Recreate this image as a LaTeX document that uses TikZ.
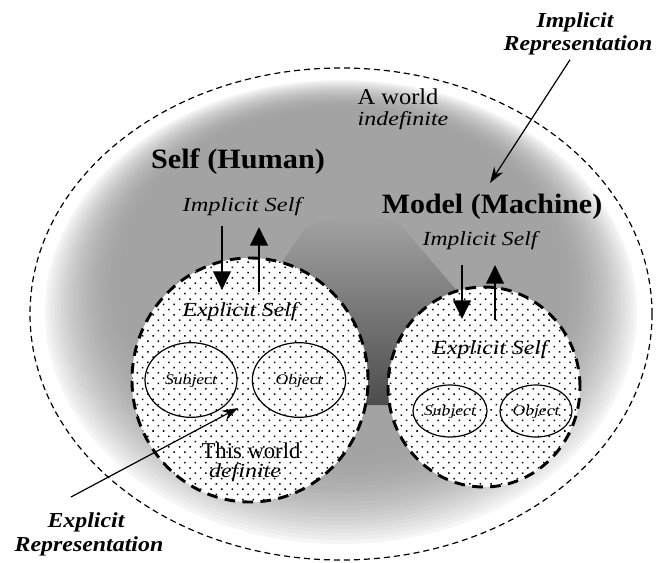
\documentclass[tikz,border=0pt]{standalone}
\usepackage{fontspec}
\setmainfont{Liberation Serif}
\usetikzlibrary{shapes.geometric,arrows.meta,patterns.meta}

% horizontally widened text
\newcommand{\widen}[2][1.2]{\scalebox{#1}[1]{#2}}

\tikzset{
  lbl/.style={inner sep=0pt, anchor=base},
  headtxt/.style={lbl, font=\fontsize{21}{24}\selectfont\bfseries},
  plaintxt/.style={lbl, font=\fontsize{17}{20}\selectfont},
  itxt/.style={lbl, font=\fontsize{15}{18}\selectfont\itshape},
  smalltxt/.style={lbl, font=\fontsize{11}{13}\selectfont\itshape},
  reptxt/.style={lbl, font=\fontsize{16}{19}\selectfont\bfseries\itshape},
  selfcircle/.style={ellipse, inner sep=0pt, draw=black, line width=2.2pt,
    dash pattern=on 8pt off 5.5pt, preaction={fill=white},
    pattern={Dots[distance=5.6pt, radius=0.8pt, angle=45]}},
  partcircle/.style={ellipse, inner sep=0pt, draw=black, line width=0.9pt},
  flow/.style={line width=2.2pt, -{Triangle[width=13pt,length=14pt]}},
  pointer/.style={line width=0.9pt, -{Stealth[width=8pt,length=12pt]}}
}

\begin{document}
\begin{tikzpicture}[x=0.75pt,y=0.75pt]
\useasboundingbox (0,0) rectangle (667,-563);

% the indefinite world: grey that fades out towards its rim,
% built from nested ellipses drifting slightly upwards
\foreach \i in {0,...,24}{
  \pgfmathsetmacro{\t}{\i/24}
  \pgfmathsetmacro{\g}{4+32*(1-(1-\t)*(1-\t))}
  \pgfmathsetmacro{\f}{1-0.011*\i}
  \pgfmathsetmacro{\rx}{296*\f}
  \pgfmathsetmacro{\ry}{232*\f}
  \pgfmathsetmacro{\cy}{-312+1.3*\i}
  \fill[black!\g] (341,\cy) ellipse [x radius=\rx, y radius=\ry];
}
% darker wedge between the two selves
\shade[top color=black!36, middle color=black!78, bottom color=black!70]
  (282,-262) -- (305,-228) .. controls (340,-214) and (375,-214) .. (398,-222)
  -- (458,-292) -- (400,-340) -- (388,-405) -- (366,-405) -- (350,-320)
  -- (320,-282) -- cycle;
\draw[line width=0.9pt, dash pattern=on 4.5pt off 3pt]
  (341,-314) ellipse [x radius=311, y radius=246];

% the two selves
\node[selfcircle, minimum width=177pt, minimum height=183pt] (hself) at (250,-380) {};
\node[selfcircle, minimum width=144pt, minimum height=150pt] (mself) at (484,-387) {};

\node[partcircle, minimum width=69pt, minimum height=56pt] (hsubj) at (191,-380) {};
\node[partcircle, minimum width=70pt, minimum height=56pt] (hobj) at (299,-380) {};
\node[partcircle, minimum width=55.5pt, minimum height=39pt] (msubj) at (450,-411) {};
\node[partcircle, minimum width=54pt, minimum height=39pt] (mobj) at (536,-411) {};

% labels
\node[plaintxt] (aworld) at (398,-105) {\widen[1.08]{A world}};
\node[itxt] (indef) at (403,-126) {\widen{indefinite}};
\node[headtxt] (human) at (238,-169) {\widen[1.08]{Self (Human)}};
\node[headtxt] (machine) at (492,-213) {\widen[1.07]{Model (Machine)}};
\node[itxt] (himp) at (242,-211) {\widen[1.22]{Implicit Self}};
\node[itxt] (mimp) at (480,-245) {\widen[1.18]{Implicit Self}};
\node[itxt] (hexp) at (240,-316) {\widen[1.18]{Explicit Self}};
\node[itxt] (mexp) at (490,-354) {\widen[1.18]{Explicit Self}};
\node[smalltxt] at (hsubj.center) [yshift=-3pt] {\widen{Subject}};
\node[smalltxt] at (hobj.center) [yshift=-3pt] {\widen{Object}};
\node[smalltxt] at (msubj.center) [yshift=-3pt] {\widen{Subject}};
\node[smalltxt] at (mobj.center) [yshift=-3pt] {\widen{Object}};
\node[plaintxt] (thisworld) at (251,-458) {This world};
\node[itxt] (definite) at (245,-477) {\widen{definite}};

\node[reptxt] (explA) at (86,-527) {\widen[1.12]{Explicit}};
\node[reptxt] (explB) at (89,-551) {\widen[1.12]{Representation}};
\node[reptxt] (implA) at (575,-28) {\widen[1.12]{Implicit}};
\node[reptxt] (implB) at (578,-51) {\widen[1.12]{Representation}};

% exchange between implicit and explicit self
\coordinate (hdownS) at (222,-226);
\coordinate (hdownE) at (222,-290);
\coordinate (hupS) at (259,-292);
\coordinate (hupE) at (259,-227);
\coordinate (mdownS) at (462,-265);
\coordinate (mdownE) at (462,-319);
\coordinate (mupS) at (495,-320);
\coordinate (mupE) at (495,-265);
\draw[flow] (hdownS) -- (hdownE);
\draw[flow] (hupS) -- (hupE);
\draw[flow] (mdownS) -- (mdownE);
\draw[flow] (mupS) -- (mupE);

% representation pointers
\coordinate (explTip) at (238,-408);
\coordinate (implTip) at (490,-183);
\draw[pointer] (71,-497) coordinate (explFoot) -- (explTip);
\draw[pointer] (implB.south) ++(-6pt,-3pt) coordinate (implFoot) -- (implTip);
\end{tikzpicture}
\end{document}
